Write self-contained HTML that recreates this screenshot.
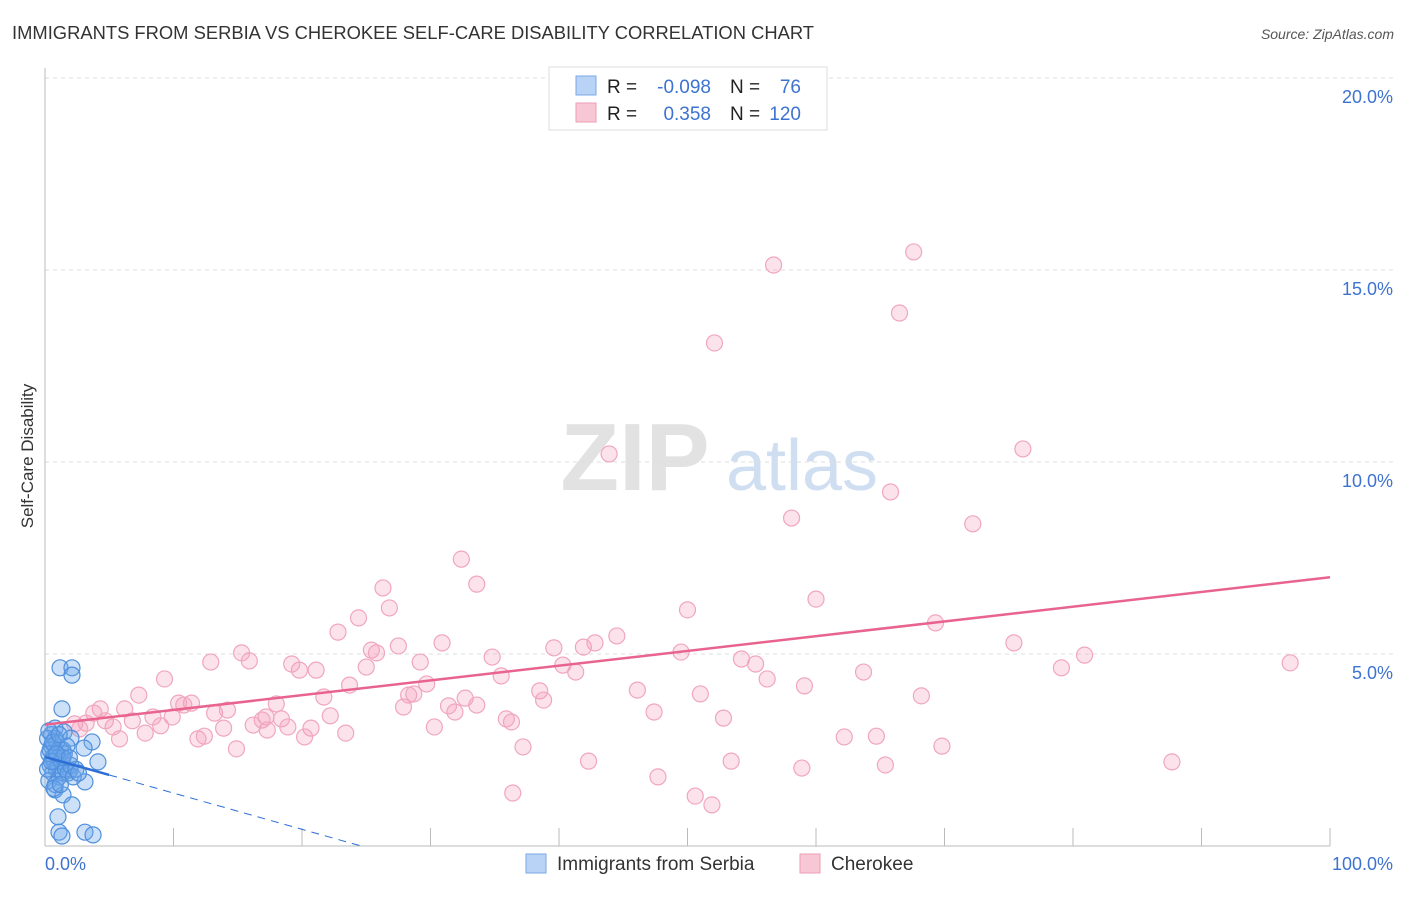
<!DOCTYPE html>
<html><head><meta charset="utf-8"><style>
body{margin:0;background:#fff;font-family:"Liberation Sans",sans-serif;}
svg text{font-family:"Liberation Sans",sans-serif;}
</style></head><body>
<svg id="chart" width="1406" height="892" xmlns="http://www.w3.org/2000/svg">
<text x="12" y="39" font-size="18" fill="#333" textLength="802" lengthAdjust="spacingAndGlyphs">IMMIGRANTS FROM SERBIA VS CHEROKEE SELF-CARE DISABILITY CORRELATION CHART</text>
<text x="1394" y="39" font-size="14" fill="#555" text-anchor="end" font-style="italic">Source: ZipAtlas.com</text>
<text transform="translate(33,456) rotate(-90)" font-size="17" fill="#333" text-anchor="middle">Self-Care Disability</text>
<g>
<text x="635" y="490" font-size="96" fill="#e2e2e2" text-anchor="middle" font-family="Liberation Serif" font-weight="bold">ZIP</text>
<text x="802" y="490" font-size="72" fill="#d0def1" text-anchor="middle">atlas</text>
</g>
<g id="grid"></g>
<g id="axes"></g>
<g id="pts"></g>
<g id="lines"></g>
<g>
<rect x="549" y="67" width="278" height="63" fill="#fff" stroke="#ddd"/>
<rect x="576" y="76" width="20" height="19" fill="#b8d3f5" stroke="#7aa9e6"/>
<rect x="576" y="103" width="20" height="19" fill="#f8c7d6" stroke="#ee9cb6"/>
<text x="607" y="93" font-size="19" fill="#222">R =</text>
<text x="711" y="93" font-size="19" fill="#3d73d0" text-anchor="end">-0.098</text>
<text x="730" y="93" font-size="19" fill="#222">N =</text>
<text x="801" y="93" font-size="19" fill="#3d73d0" text-anchor="end">76</text>
<text x="607" y="120" font-size="19" fill="#222">R =</text>
<text x="711" y="120" font-size="19" fill="#3d73d0" text-anchor="end">0.358</text>
<text x="730" y="120" font-size="19" fill="#222">N =</text>
<text x="801" y="120" font-size="19" fill="#3d73d0" text-anchor="end">120</text>
</g>
<g>
<rect x="526" y="854" width="20" height="19" fill="#b8d3f5" stroke="#7aa9e6"/>
<text x="557" y="870" font-size="19" fill="#333">Immigrants from Serbia</text>
<rect x="800" y="854" width="20" height="19" fill="#f8c7d6" stroke="#ee9cb6"/>
<text x="831" y="870" font-size="19" fill="#333">Cherokee</text>
</g>
</svg>
<script>
const xTickLabels=["0.0%","100.0%"];
const yTicks=[5,10,15,20];
const yTickLabels=["5.0%","10.0%","15.0%","20.0%"];
const serbiaX=[1.17,2.10,2.10,1.32,0.78,1.48,2.02,0.70,3.66,3.04,1.40,4.12,1.95,3.11,0.78,1.40,2.10,1.01,1.09,3.11,3.74,1.32,
0.3,0.4,0.5,0.6,0.7,0.8,0.9,1.0,1.1,1.2,0.3,0.5,0.6,0.8,0.9,1.0,1.3,1.4,1.5,1.6,1.7,1.8,2.0,2.2,2.4,0.4,0.2,0.2,0.3,0.6,0.7,1.1,1.2,1.4,0.5,0.9,1.9,2.6];
const serbiaY=[4.64,4.64,4.45,3.57,3.07,2.97,2.81,2.63,2.71,2.55,2.50,2.19,1.98,1.67,1.46,1.33,1.07,0.76,0.36,0.36,0.29,0.26,
2.4,2.1,2.6,1.9,2.2,2.8,2.0,2.3,1.8,2.5,1.7,2.9,2.3,1.6,2.7,2.1,2.2,1.9,2.4,2.0,2.6,1.9,2.1,1.8,2.0,2.5,2.0,2.8,3.0,2.7,1.5,2.9,1.6,2.3,2.2,2.4,2.3,1.9];
const cherX=[67.6,56.7,66.5,52.1,43.9,76.1,65.8,58.1,72.2,32.4,33.6,26.3,26.8,60.0,50.0,24.4,22.8,69.3,44.5,42.8,41.9,39.6,30.9,27.5,25.4,25.8,75.4,49.5,80.9,15.3,15.9,12.9,34.8,29.2,25.0,54.2,55.3,40.3,19.2,19.8,21.1,96.9,79.1,41.3,63.7,9.3,35.5,56.2,59.1,23.7,29.7,46.1,38.5,7.3,21.7,28.3,28.7,51.0,68.2,32.7,38.8,10.4,11.4,10.8,18.0,31.4,33.6,27.9,4.3,6.2,14.2,13.2,31.9,47.4,3.8,17.2,22.2,8.4,9.9,35.9,52.8,16.9,18.4,4.7,6.8,2.3,3.2,36.3,9.0,16.2,5.3,7.8,30.3,18.9,2.7,13.9,17.3,20.7,23.4,20.2,11.9,12.4,5.8,62.2,64.7,14.9,37.2,69.8,53.4,42.3,65.4,87.7,58.9,47.7,36.4,50.6,51.9];
const cherY=[15.47,15.13,13.88,13.10,10.21,10.34,9.22,8.54,8.39,7.47,6.82,6.72,6.20,6.43,6.15,5.94,5.57,5.81,5.47,5.29,5.18,5.16,5.29,5.21,5.10,5.03,5.29,5.05,4.97,5.03,4.82,4.79,4.92,4.79,4.66,4.87,4.74,4.71,4.74,4.58,4.58,4.77,4.64,4.53,4.53,4.35,4.43,4.35,4.17,4.19,4.22,4.06,4.04,3.93,3.88,3.93,3.96,3.96,3.91,3.85,3.80,3.72,3.72,3.67,3.70,3.65,3.67,3.62,3.57,3.57,3.54,3.46,3.49,3.49,3.46,3.36,3.39,3.36,3.36,3.31,3.33,3.28,3.31,3.26,3.26,3.18,3.20,3.23,3.13,3.15,3.10,2.94,3.10,3.10,3.05,3.07,3.02,3.07,2.94,2.84,2.79,2.86,2.79,2.84,2.86,2.53,2.58,2.60,2.21,2.21,2.11,2.19,2.03,1.80,1.38,1.30,1.07];
const serbiaLine=[[0,2.32],[5,1.85],[24.6,0]];
const cherLine=[[0,3.16],[100,7.0]];
const NS="http://www.w3.org/2000/svg";
const X0=45,X1=1330,Y0=846,Y20=78;
const sx=v=>X0+(X1-X0)*v/100;
const sy=v=>Y0-(Y0-Y20)*v/20;
function mk(tag,attrs,parent){const e=document.createElementNS(NS,tag);for(const k in attrs)e.setAttribute(k,attrs[k]);parent.appendChild(e);return e;}
const grid=document.getElementById('grid'),axes=document.getElementById('axes'),pts=document.getElementById('pts'),lines=document.getElementById('lines');
yTicks.forEach((t,i)=>{
 const l=mk('line',{x1:X0,x2:1393,y1:sy(t),y2:sy(t),stroke:'#ddd','stroke-dasharray':'4,4'},grid);
 
 
 const tx=mk('text',{x:1393,y:sy(t)+25,'font-size':18,fill:'#3d73d0','text-anchor':'end'},axes);
 tx.textContent=yTickLabels[i];
 
 
});
const ax=mk('line',{x1:X0,x2:X0,y1:68,y2:Y0,stroke:'#bbb'},axes);


const bx=mk('line',{x1:X0,x2:X1,y1:Y0,y2:Y0,stroke:'#bbb'},axes);


for(let i=1;i<=10;i++){const t=mk('line',{x1:sx(i*10),x2:sx(i*10),y1:828,y2:Y0,stroke:'#bbb'},axes);
 
 }
[[0,'start',45],[100,'end',1393]].forEach((a,i)=>{const t=mk('text',{x:a[2],y:870,'font-size':18,fill:'#3d73d0','text-anchor':a[1]},axes);t.textContent=xTickLabels[i];
 
 });
cherX.forEach((x,i)=>{const c=mk('circle',{cx:sx(x),cy:sy(cherY[i]),r:8,fill:'rgba(244,160,188,0.3)',stroke:'#f0a6be','stroke-width':1.2},pts);
 
 });
serbiaX.forEach((x,i)=>{const c=mk('circle',{cx:sx(x),cy:sy(serbiaY[i]),r:8,fill:'rgba(110,165,235,0.35)',stroke:'#4f8fdc','stroke-width':1.2},pts);
 
 });
const pl=mk('line',{x1:sx(cherLine[0][0]),y1:sy(cherLine[0][1]),x2:sx(cherLine[1][0]),y2:sy(cherLine[1][1]),stroke:'#e8648e','stroke-width':2.5},lines);


const bl=mk('line',{x1:sx(serbiaLine[0][0]),y1:sy(serbiaLine[0][1]),x2:sx(serbiaLine[1][0]),y2:sy(serbiaLine[1][1]),stroke:'#2e6fd6','stroke-width':2.5},lines);


const bd=mk('line',{x1:sx(serbiaLine[1][0]),y1:sy(serbiaLine[1][1]),x2:sx(serbiaLine[2][0]),y2:sy(serbiaLine[2][1]),stroke:'#2e6fd6','stroke-width':1,'stroke-dasharray':'8,6'},lines);


</script>
</body></html>
